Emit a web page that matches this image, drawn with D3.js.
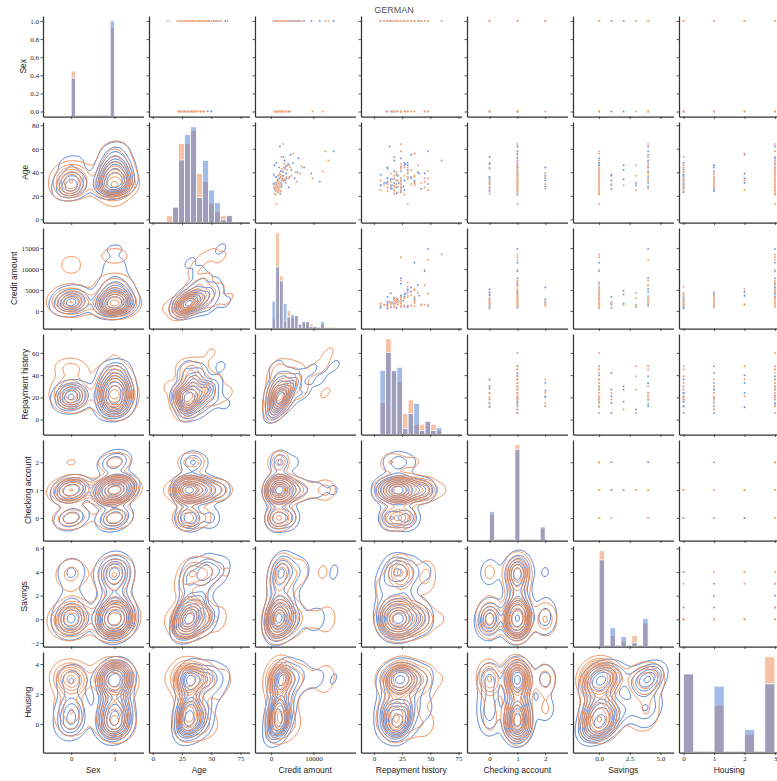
<!DOCTYPE html>
<html><head><meta charset="utf-8">
<script src="https://cdn.jsdelivr.net/npm/d3@7/dist/d3.min.js"></script>
<style>body{margin:0;background:#fff}svg{display:block}</style>
</head><body>
<svg id="chart" width="777" height="781"></svg>
<script>
// ================= DATA =================
const chartTitle = "GERMAN";
const variables = ["Sex","Age","Credit amount","Repayment history","Checking account","Savings","Housing"];

// sample rows, class 0 (blue)
const sexBlue = [1,1,0,1,1,1,0,1,1,0, 1,1,1,0,1,1,1,0,1,1, 1,0,1,1,1,1,0,1,1,1, 0,1,1,1,0,1,1,1,0,1, 1,1,0,1,1,1,0,1,1,1, 0,1,1,1,0,1,1,1,0,1, 1,1,0,1,1];
const ageBlue = [35,28,24,45,31,33,29,52,36,41, 27,38,58,23,30,46,32,26,44,29, 37,33,25,48,35,31,22,55,30,39, 34,43,28,36,47,33,26,40,30,35, 62,29,37,32,44,24,50,34,27,42, 31,38,33,46,28,35,30,53,26,39, 31,48,36,29,41];
const creditBlue = [2100,1500,1200,3500,900,2800,1900,6500,1100,2300, 4200,700,14800,1600,2500,3900,1300,800,7800,2000, 1700,3100,1000,5200,2600,1400,2200,4600,600,9500, 1800,3300,2400,1250,4100,2900,1550,6200,950,3700, 2100,1350,2700,11500,1900,2300,3200,1650,750,4800, 1450,2050,3400,850,2500,5600,1150,2950,1750,3600, 2250,1300,4400,950,2650];
const repayBlue = [12,18,24,24,18,20,15,24,30,18, 15,6,48,24,36,27,12,15,24,16, 21,24,27,30,18,9,20,33,12,45, 16,12,26,33,28,36,42,39,24,24, 14,6,21,36,12,24,18,15,20,30, 11,20,27,30,24,33,48,18,16,40, 22,27,30,6,24];
const checkingBlue = [1,1,0,1,1,2,1,1,0,1, 1,1,1,1,0,1,1,0,1,1, 2,1,1,0,1,1,1,1,0,1, 1,1,2,1,0,1,1,1,1,0, 1,1,1,1,2,1,1,0,1,1, 0,1,1,1,1,2,1,0,1,1, 1,1,0,1,1];
const savingsBlue = [0,0,0,4,0,0,1,0,0,4, 0,1,4,0,0,2,0,0,4,0, 1,0,0,4,0,3,0,4,0,0, 2,0,0,4,0,0,1,4,0,0, 4,0,0,0,4,0,4,0,0,2, 0,0,1,0,4,0,0,4,0,0, 4,0,0,3,0];
const housingBlue = [3,0,1,3,0,1,3,3,0,1, 3,0,3,0,3,1,0,1,3,0, 3,0,1,3,0,1,3,2,0,3, 1,0,3,1,3,0,1,3,0,2, 3,1,0,3,1,0,3,1,0,3, 2,0,3,1,0,3,1,3,0,2, 3,0,1,3,0];

// sample rows, class 1 (orange)
const sexOrange = [1,0,1,1,0,1,1,0,1,1, 1,0,1,1,0,1,1,0,1,1, 0,1,1,0,1,1,0,1,1,0, 1,1,0,1,1,0,1,0,1,0, 1,1,0,1,1,0,1,1,0,1, 1,0,1,1,0,1,1,0,1,1, 0,1,1,0,1];
const ageOrange = [26,23,34,29,31,25,40,22,38,27, 13,35,30,45,28,33,24,37,50,32, 26,42,31,35,29,64,27,36,33,44, 25,39,30,47,28,34,23,41,31,36, 26,53,32,37,29,24,44,58,33,27, 35,30,46,25,39,32,28,43,21,34, 37,56,30,27,40];
const creditOrange = [1400,1800,2600,1100,3400,1250,5800,900,2200,1600, 1300,4100,1500,7200,1900,2450,1150,3000,13500,1700, 2100,3800,1350,9800,1550,2900,1250,2300,1800,4500, 1450,6800,2000,3200,1050,2700,1650,12200,1900,3600, 1200,2400,1750,4900,1400,2250,3100,12800,1600,950, 2800,1300,4300,1850,2050,6100,1500,2600,1100,3300, 1700,5200,2150,1450,2950];
const repayOrange = [24,24,18,36,36,6,30,18,21,24, 30,48,12,24,18,20,18,27,60,15, 24,33,42,45,18,24,24,36,6,30, 48,30,20,24,15,18,21,48,36,30, 24,18,24,36,9,12,27,24,21,12, 24,33,39,18,15,45,21,24,27,30, 18,36,24,45,20];
const checkingOrange = [1,1,0,1,1,1,1,0,1,1, 1,1,2,1,1,0,1,1,1,1, 0,1,1,1,1,1,1,2,1,0, 1,1,1,1,0,1,1,1,1,1, 2,1,0,1,1,1,1,1,1,0, 1,1,1,1,2,1,1,0,1,1, 1,1,0,1,1];
const savingsOrange = [0,0,0,0,0,3,0,0,4,0, 0,0,0,4,0,0,0,3,0,0, 4,0,0,0,1,4,0,0,0,0, 3,0,0,4,0,0,0,4,0,0, 0,4,0,0,2,0,0,0,4,0, 0,0,3,0,0,4,0,0,0,4, 0,0,1,0,0];
const housingOrange = [3,3,0,3,1,3,0,3,1,3, 3,0,3,3,1,3,0,3,3,1, 3,0,3,3,0,3,1,3,0,3, 2,3,0,3,1,3,0,3,3,1, 3,0,3,3,1,3,0,3,2,3, 1,3,0,3,1,3,0,3,3,1, 3,2,3,0,3];

// diagonal histogram heights (relative units)
const sexHistBlue = [114,0,0,0,0,0,0,0,0,284];
const sexHistOrange = [135,0,0,0,0,0,0,0,0,263];
const ageHistBlue = [0,45,183,257,280,73,182,95,58,8,20];
const ageHistOrange = [20,45,231,231,269,144,120,57,33,20,20];
const creditHistBlue = [81,183,141,74,34,41,38,13,20,20,6,6,0,20,0,0,0];
const creditHistOrange = [28,284,156,21,53,34,38,13,20,20,13,6,0,13,4,4,4];
const repayHistBlue = [189,242,188,198,17,62,92,12,39,12,20];
const repayHistOrange = [94,282,188,156,62,102,30,30,39,30,12];
const checkingHistBlue = [85,0,0,0,0,268,0,0,0,0,40];
const checkingHistOrange = [76,0,0,0,0,282,0,0,0,0,36];
const savingsHistBlue = [255,0,55,0,29,0,11,0,82];
const savingsHistOrange = [282,0,32,0,15,0,32,0,69];
const housingHistBlue = [238,0,0,201,0,0,70,0,208];
const housingHistOrange = [238,0,0,143,0,0,55,0,290];
const histBinStart = [0, 11.9, 250, 5.3, 0, 0, 0];
const histBinWidth = [0.1, 5.1, 880, 5.0, 2/11, 4/9, 1/3];

// ticks
const xTickValues = [[0,1],[0,25,50,75],[0,10000],[0,25,50,75],[0,1,2],[0,2.5,5],[0,1,2,3]];
const xTickLabels = [["0","1"],["0","25","50","75"],["0","10000"],["0","25","50","75"],["0","1","2"],["0.0","2.5","5.0"],["0","1","2","3"]];
const yTickValues = [[0,0.2,0.4,0.6,0.8,1],[0,20,40,60,80],[0,5000,10000,15000],[0,20,40,60],[0,1,2],[-2,0,2,4,6],[0,2,4]];
const yTickLabels = [["0.0","0.2","0.4","0.6","0.8","1.0"],["0","20","40","60","80"],["0","5000","10000","15000"],["0","20","40","60"],["0","1","2"],["\u22122","0","2","4","6"],["0","2","4"]];

// ================= SETUP =================
const blueCols = [sexBlue,ageBlue,creditBlue,repayBlue,checkingBlue,savingsBlue,housingBlue];
const orangeCols = [sexOrange,ageOrange,creditOrange,repayOrange,checkingOrange,savingsOrange,housingOrange];
const classCols = [blueCols, orangeCols];
const histCounts = [
  [sexHistBlue,ageHistBlue,creditHistBlue,repayHistBlue,checkingHistBlue,savingsHistBlue,housingHistBlue],
  [sexHistOrange,ageHistOrange,creditHistOrange,repayHistOrange,checkingHistOrange,savingsHistOrange,housingHistOrange]
];
const palette = ["#4878d0", "#ee854a"];

const colDomains = [[-0.65,1.67],[-3.2,82.7],[-3750,19900],[-11.5,77.7],[-0.81,2.8],[-2.13,6.07],[-0.15,3.15]];
const rowDomains = [[-0.055,1.055],[-2.7,82.8],[-4200,19800],[-13.4,77],[-0.81,2.8],[-2.3,6.2],[-1.9,4.8]];

const left0 = 43, top0 = 16, step = 106, pw = 100.5, ph = 100.5;
const nv = variables.length;
const px = j => left0 + step*j;
const py = i => top0 + step*i;
const xScales = colDomains.map((d,j)=>d3.scaleLinear().domain(d).range([px(j), px(j)+pw]));
const yScales = rowDomains.map((d,i)=>d3.scaleLinear().domain(d).range([py(i)+ph, py(i)]));

const svg = d3.select("#chart");
const tickFont = "'Liberation Serif','Times New Roman',serif";
const labelFont = "'Liberation Sans',Arial,sans-serif";
const spineColor = "#333";

// ================= KDE helpers =================
const NG = 100, bwFactor = 0.5;
function kdeGrid(xs, ys, xd, yd, weight){
  const n = xs.length;
  const mx = d3.mean(xs), my = d3.mean(ys);
  let sxx=0, syy=0, sxy=0;
  for(let k=0;k<n;k++){const dx=xs[k]-mx, dy=ys[k]-my; sxx+=dx*dx; syy+=dy*dy; sxy+=dx*dy;}
  const f2 = bwFactor*bwFactor;
  const a = sxx/(n-1)*f2, b = sxy/(n-1)*f2, d = syy/(n-1)*f2;
  const det = a*d - b*b;
  const ia = d/det, ib = -b/det, id = a/det;
  const norm = weight/(n*2*Math.PI*Math.sqrt(det));
  const grid = new Array(NG*NG);
  for(let iy=0; iy<NG; iy++){
    const yv = yd[1] - (iy+0.5)/NG*(yd[1]-yd[0]);
    for(let ix=0; ix<NG; ix++){
      const xv = xd[0] + (ix+0.5)/NG*(xd[1]-xd[0]);
      let s = 0;
      for(let k=0;k<n;k++){
        const dx = xv-xs[k], dy = yv-ys[k];
        s += Math.exp(-0.5*(ia*dx*dx + 2*ib*dx*dy + id*dy*dy));
      }
      grid[iy*NG+ix] = s*norm;
    }
  }
  return grid;
}
function isoLevels(grids){
  const vals = [].concat(...grids).sort((p,q)=>q-p);
  const total = d3.sum(vals);
  const cum = []; let c = 0;
  for(const v of vals){ c += v; cum.push(c/total); }
  const qs = d3.range(10).map(k => 0.05 + k*(0.95/9));
  return qs.map(q => {
    let idx = d3.bisectLeft(cum, 1-q);
    idx = Math.min(idx, vals.length-1);
    return vals[idx];
  });
}

// ================= DRAW =================
for(let i=0;i<nv;i++){
  for(let j=0;j<nv;j++){
    const g = svg.append("g");
    const xs = xScales[j], ys = yScales[i];
    if(i===j){
      const all = histCounts[0][j].concat(histCounts[1][j]);
      const hy = d3.scaleLinear().domain([0, d3.max(all)*1.05]).range([py(i)+ph, py(i)]);
      const nb = histCounts[0][j].length;
      for(let b=0;b<nb;b++){
        if(histCounts[0][j][b]===0 && histCounts[1][j][b]===0){
          const x0 = histBinStart[j]+b*histBinWidth[j];
          g.append("rect").attr("x", xs(x0)).attr("width", xs(x0+histBinWidth[j])-xs(x0))
            .attr("y", hy(0)-1.4).attr("height", 1.4).attr("fill", "#dcdae6");
        }
      }
      [1,0].forEach(h=>{
        histCounts[h][j].forEach((cnt,b)=>{
          if(cnt<=0) return;
          const x0 = histBinStart[j]+b*histBinWidth[j];
          g.append("rect")
            .attr("x", xs(x0)).attr("width", xs(x0+histBinWidth[j])-xs(x0))
            .attr("y", hy(cnt)).attr("height", hy(0)-hy(cnt))
            .attr("fill", palette[h]).attr("fill-opacity", 0.5)
            .attr("stroke", "#fff").attr("stroke-width", 0.8);
        });
      });
    } else if(i<j){
      [0,1].forEach(h=>{
        const n = classCols[h][0].length;
        for(let k=0;k<n;k++){
          g.append("circle")
            .attr("cx", xs(classCols[h][j][k])).attr("cy", ys(classCols[h][i][k]))
            .attr("r", 1.0).attr("fill", palette[h])
            .attr("stroke", "#fff").attr("stroke-width", 0.35);
        }
      });
    } else {
      const N = classCols[0][0].length + classCols[1][0].length;
      const grids = [0,1].map(h => kdeGrid(classCols[h][j], classCols[h][i], colDomains[j], rowDomains[i], classCols[h][0].length/N));
      const levels = isoLevels(grids);
      const gx = d3.scaleLinear().domain([0,NG]).range(colDomains[j]);
      const gy = d3.scaleLinear().domain([0,NG]).range([rowDomains[i][1], rowDomains[i][0]]);
      const path = d3.geoPath();
      [0,1].forEach(h=>{
        const cs = d3.contours().size([NG,NG]).thresholds(levels)(grids[h]);
        cs.forEach(c=>{
          const coords = c.coordinates.map(poly => poly.map(ring => ring.map(p => [xs(gx(p[0])), ys(gy(p[1]))])));
          g.append("path").attr("d", path({type:"MultiPolygon", coordinates: coords}))
            .attr("fill","none").attr("stroke", palette[h]).attr("stroke-width", 0.95);
        });
      });
    }

    const ay = d3.axisLeft(ys).tickValues(yTickValues[i]).tickSize(2.5).tickPadding(1.5).tickSizeOuter(0)
      .tickFormat((d,k)=> j===0 ? yTickLabels[i][k] : "");
    const gyAxis = svg.append("g").attr("transform", `translate(${px(j)},0)`).call(ay);
    const ax = d3.axisBottom(xs).tickValues(xTickValues[j]).tickSize(2.5).tickPadding(1.5).tickSizeOuter(0)
      .tickFormat((d,k)=> i===nv-1 ? xTickLabels[j][k] : "");
    const gxAxis = svg.append("g").attr("transform", `translate(0,${py(i)+ph})`).call(ax);
    [gyAxis, gxAxis].forEach(a=>{
      a.select(".domain").attr("stroke", spineColor).attr("stroke-width", 1.25);
      a.selectAll(".tick line").attr("stroke", spineColor).attr("stroke-width", 0.8);
      a.selectAll(".tick text").attr("font-family", tickFont).attr("font-size", 7).attr("fill", "#262626");
    });
    if(j===0){
      const bb = gyAxis.node().getBBox();
      svg.append("text")
        .attr("transform", `translate(${px(0)+bb.x-4.5},${py(i)+ph/2}) rotate(-90)`)
        .attr("text-anchor","middle").attr("font-family", labelFont).attr("font-size", 8.5)
        .attr("fill","#262626").text(variables[i]);
    }
    if(i===nv-1){
      svg.append("text").attr("x", px(j)+pw/2).attr("y", 772.5)
        .attr("text-anchor","middle").attr("font-family", labelFont).attr("font-size", 8.5)
        .attr("fill","#262626").text(variables[j]);
    }
  }
}

svg.append("text").attr("x", 394).attr("y", 12.5).attr("text-anchor","middle")
  .attr("font-family", labelFont).attr("font-size", 9).attr("fill", "#555").text(chartTitle);
</script>
</body></html>
